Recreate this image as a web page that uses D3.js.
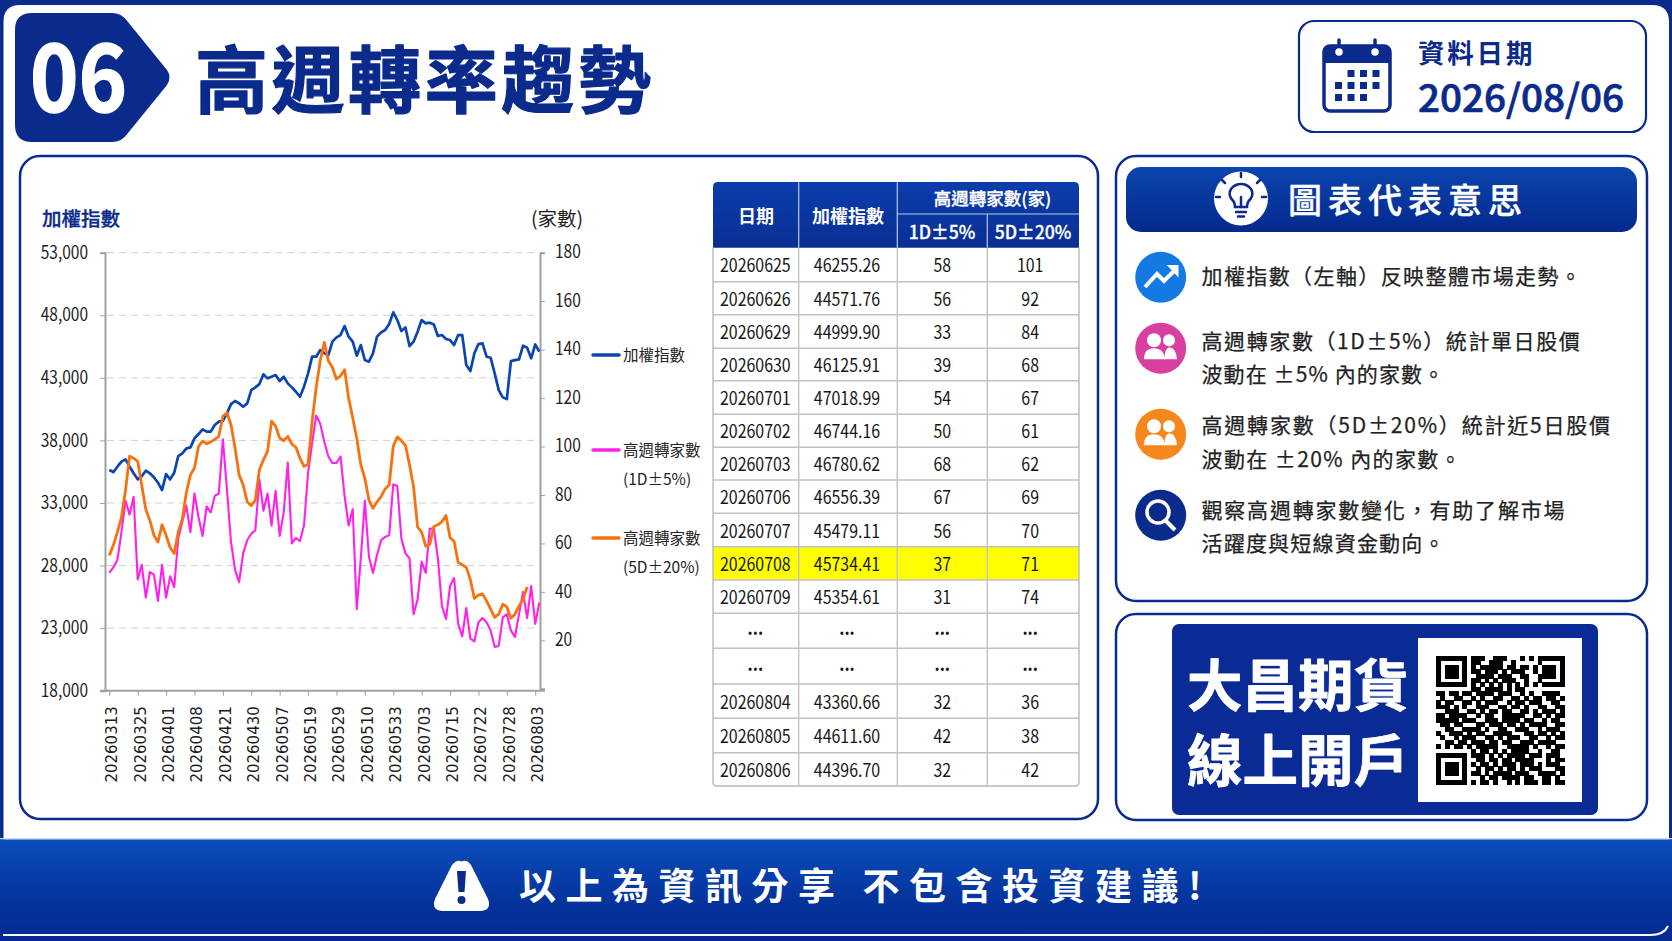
<!DOCTYPE html>
<html lang="zh-Hant"><head><meta charset="utf-8">
<script src="https://cdn.jsdelivr.net/npm/d3@7/dist/d3.min.js"></script>
<style>html,body{margin:0;padding:0;background:#fff;overflow:hidden}svg{display:block}text{font-family:"Noto Sans CJK TC","Noto Sans",sans-serif}</style>
</head><body><svg id="c" width="1672" height="941"></svg>
<script>
const indexSeries=[35630,35470,35900,36300,36480,35900,35370,34890,35150,35580,35370,35050,34620,34030,35310,34890,35420,36750,36960,37360,37440,38160,38510,38880,38700,38700,39230,39500,39570,40160,40900,41150,40960,40690,40960,42020,42240,42500,43280,42960,43090,43220,42740,43090,42560,42240,41890,41490,42290,43360,44690,44690,45220,44960,44820,45890,46230,46420,47140,46290,45890,44770,45620,44420,44290,44960,46290,46630,46820,47300,48230,47620,46740,47030,45540,45890,46690,47620,47350,47410,47270,46340,46420,46100,46020,45620,46420,46420,44020,43540,44960,45700,45750,44690,44610,43360,42020,41440,41300,44340,44420,44480,45570,45410,44560,45670,45090];
const series1D=[47.8,50.1,53.2,64.7,77.6,71.9,79.2,45.1,51.2,37.6,48.2,47.1,36.3,51.2,37.6,46.4,42,62,68.8,75.6,64.7,80.6,70.8,63.1,75.3,72.8,79.6,80.6,103,82.3,60.7,49.1,44,55.9,61.3,64,65.4,86.4,73.5,80.6,67.4,81.7,63.1,72.8,93.4,60,62.3,61,67.4,89.1,101.3,112.8,109.4,102,95.9,93.2,93.2,95.9,79.6,67.4,74.2,32.9,53.9,77.6,54.6,47.8,55.2,61.3,62.7,63.4,84.4,83.7,62,55.9,53.9,30.8,36.9,52.5,47.8,66.1,66.1,53.9,34.2,28.8,42.4,45.7,26.8,21.6,33.3,20.7,19.6,27.5,29.2,27.5,24.1,17.3,17.7,29.5,30.8,24.1,21.4,30.8,39.9,29.2,42.4,26.8,35.6];
const series5D=[55,59.3,64.7,70.8,82,96,95.2,93.9,84,74,69.5,63.4,60.6,67.7,63.4,58.2,55.9,64.7,70.1,81,88.3,91.1,100.1,102.2,101.2,101.9,102.9,104.2,112.5,113.9,109.1,99.4,88.3,84.2,77.2,75.6,77.9,90.4,94.5,98,110.5,108.4,103.5,102.4,104.2,101,99.7,95.2,91.8,92.7,110.5,124.3,135.4,143,135.4,132.6,127.8,129.2,131.7,120,111.9,103.5,92.5,86.9,77.9,74.5,77.2,79.3,82.5,84.2,100.1,104,102.4,100.5,92.5,83.5,66.7,64.7,58.9,59.6,67,67.7,69,71.5,62.4,60.9,52.1,51.2,50.1,45.1,37.3,38.7,39.2,36.3,32.9,29.5,30.8,34.9,33.8,29.1,30.8,34.2,36.9,42];
const xTickLabels=["20260313","20260325","20260401","20260408","20260421","20260430","20260507","20260519","20260529","20260510","20260533","20260703","20260715","20260722","20260728","20260803"];
const leftTicks=[18000,23000,28000,33000,38000,43000,48000,53000];
const rightTicks=[20,40,60,80,100,120,140,160,180];
const tableDates=["20260625","20260626","20260629","20260630","20260701","20260702","20260703","20260706","20260707","20260708","20260709","...","...","20260804","20260805","20260806"];
const tableIndex=["46255.26","44571.76","44999.90","46125.91","47018.99","46744.16","46780.62","46556.39","45479.11","45734.41","45354.61","...","...","43360.66","44611.60","44396.70"];
const table1D=["58","56","33","39","54","50","68","67","56","37","31","...","...","32","42","32"];
const table5D=["101","92","84","68","67","61","62","69","70","71","74","...","...","36","38","42"];
const notes=[["加權指數（左軸）反映整體市場走勢。"],["高週轉家數（1D±5%）統計單日股價","波動在 ±5% 內的家數。"],["高週轉家數（5D±20%）統計近5日股價","波動在 ±20% 內的家數。"],["觀察高週轉家數變化，有助了解市場","活躍度與短線資金動向。"]];
const qr=["11111110111001110001010111111","10000010110011100100000100001","10111010101111101101101011101","10111010110111010111001011101","10111010011110111001100111101","10000010110101011100100100001","11111110101010101010101011111","00000000110111101011000000000","11011011011110111001010011110","01001100101001100110101101101","10110011010111001011011100110","11101010011100110110100110011","00111001101011011001101011101","11011110010110011111001101011","11111011100111011110110010110","01101100011011101101011110011","00110011110100110011100101110","10011101011001111000110110101","01001011100110101110011001011","00110110111011011001110111100","10101101011111001111101001011","00000000101101010111100100110","11111110111010101111011101110","10000010011011011011110001011","10111010101101011101110101110","10111010010110101101011100011","10111010110101111011100111101","10000010001011011110110011010","11111110101101001010111011011"];

const NAVY="#0a2a8c",svg=d3.select("#c"),defs=svg.append("defs");
function grad(id,stops,dir){const g=defs.append("linearGradient").attr("id",id).attr("x1",0).attr("y1",0).attr("x2",dir?1:0).attr("y2",dir?0:1);stops.forEach(s=>g.append("stop").attr("offset",s[0]).attr("stop-color",s[1]));}
grad("gFoot",[[0,"#0b4dba"],[.55,"#05359f"],[1,"#032a8e"]]);
grad("gHead",[[0,"#0a45ae"],[1,"#04298c"]]);
grad("gTh",[[0,"#0b3dab"],[1,"#0a2f94"]]);
function text(p,x,cy,s,size,o={}){
  const n=p.append("text").attr("x",x).attr("y",cy+size*.37).attr("font-size",size).attr("fill",o.fill||"#1c1c1c").attr("text-anchor",o.anchor||"start").attr("font-weight",o.weight||400).style("letter-spacing",o.ls?o.ls+"px":null).attr("xml:space","preserve").text(s);
  if(o.squeeze)squeeze(n,o.squeeze);
  if(o.width)n.attr("textLength",o.width).attr("lengthAdjust","spacingAndGlyphs");
  if(o.stroke)n.attr("stroke",o.fill||"#1c1c1c").attr("stroke-width",o.stroke).attr("stroke-linejoin","round");
  return n;
}
function squeeze(sel,f){sel.each(function(){const w=this.getComputedTextLength();d3.select(this).attr("textLength",w*f).attr("lengthAdjust","spacingAndGlyphs");});}
function panel(x,y,w,h,r,sw=2.5){return svg.append("rect").attr("x",x).attr("y",y).attr("width",w).attr("height",h).attr("rx",r).attr("fill","#fff").attr("stroke",NAVY).attr("stroke-width",sw);}

// frame
svg.append("rect").attr("width",1672).attr("height",941).attr("fill",NAVY);
svg.append("path").attr("d","M3.5 22Q3.5 5 20 5H1652Q1669 5 1669 22V870H3.5Z").attr("fill","#fff");
// footer
svg.append("rect").attr("x",0).attr("y",838).attr("width",1672).attr("height",1.5).attr("fill","#c9d8f2");
svg.append("path").attr("d","M0 839.5H1672V925Q1672 941 1655 941H0Z").attr("fill","url(#gFoot)");
svg.append("path").attr("d","M3 935H1650Q1664 935 1668 926").attr("fill","none").attr("stroke","#fff").attr("stroke-width",2);
svg.append("path").attr("d","M461.5 861.5Q457 859 452 865L435 899Q431 910 442 911H481Q492 910 488 899L471 865Q467 859 461.5 861.5Z").attr("fill","#fff");
svg.append("path").attr("d","M457 871H466L464.5 892H458.5Z").attr("fill",NAVY);
svg.append("circle").attr("cx",461.5).attr("cy",900).attr("r",4).attr("fill",NAVY);
text(svg,519,886,"以上為資訊分享 不包含投資建議!",37,{fill:"#fff",weight:700,ls:9.5});

// header badge and title
svg.append("path").attr("d","M15 30Q15 13 32 13H112Q122 13 128 22L167 70Q172 77 167 85L128 133Q122 142 112 142H32Q15 142 15 125Z").attr("fill",NAVY);
text(svg,30,78,"06",92,{fill:"#fff",weight:700,width:97,stroke:1.5});
text(svg,195,80,"高週轉率趨勢",73,{fill:NAVY,weight:700,ls:3.6,stroke:1.2});

// date box
panel(1299,21,347,111,15,2.2);
const cal=svg.append("g");
cal.append("rect").attr("x",1324).attr("y",46).attr("width",66).attr("height",65).attr("rx",6).attr("fill","#fff").attr("stroke",NAVY).attr("stroke-width",3.5);
cal.append("path").attr("d","M1323 63V52Q1323 46 1329 46H1385Q1391 46 1391 52V63Z").attr("fill",NAVY);
[1339,1375].forEach(x=>{cal.append("path").attr("d",`M${x} 40V51`).attr("stroke",NAVY).attr("stroke-width",3.5).attr("stroke-linecap","round");cal.append("circle").attr("cx",x).attr("cy",52).attr("r",4.5).attr("fill","#fff").attr("stroke",NAVY).attr("stroke-width",1.5);});
[[0,1],[0,2],[0,3],[1,0],[1,1],[1,2],[1,3],[2,0],[2,1],[2,2]].forEach(([r,c])=>cal.append("rect").attr("x",1335+c*12.5).attr("y",70+r*12).attr("width",7).attr("height",7).attr("fill",NAVY));
text(svg,1418,53.5,"資料日期",26.5,{fill:NAVY,weight:700,ls:2.8});
text(svg,1418,98,"2026/08/06",38,{fill:NAVY,weight:500,width:206,stroke:.7});

// chart panel
panel(20,156,1078,663,20);
const xIndex=d3.scaleLinear().domain([0,indexSeries.length-1]).range([109.3,539.3]);
const yLeft=d3.scaleLinear().domain([18000,53000]).range([690.7,252.7]);
const yRight=d3.scaleLinear().domain([0,180]).range([688.8,252.7]);
const chart=svg.append("g");
chart.append("g").selectAll("line").data(leftTicks.slice(1)).join("line").attr("x1",107).attr("x2",538).attr("y1",d=>yLeft(d)).attr("y2",d=>yLeft(d)).attr("stroke","#cfcfcf").attr("stroke-dasharray","7 5");
const ax=chart.append("g").attr("transform","translate(105,0)").call(d3.axisLeft(yLeft).tickValues(leftTicks).tickFormat(d3.format(",")).tickSize(5).tickPadding(12));
const ar=chart.append("g").attr("transform","translate(540,0)").call(d3.axisRight(yRight).tickValues(rightTicks).tickSize(5).tickPadding(10));
const tickX=d3.scalePoint().domain(xTickLabels).range([xIndex(0),xIndex(105)]);
const ab=chart.append("g").attr("transform","translate(0,690.7)").call(d3.axisBottom(tickX).tickSize(5).tickPadding(10).tickSizeOuter(0));
chart.append("line").attr("x1",100).attr("x2",545).attr("y1",690.7).attr("y2",690.7).attr("stroke","#a0a0a0").attr("stroke-width",2);
[ax,ar,ab].forEach(a=>{a.select(".domain").attr("stroke","#a0a0a0").attr("stroke-width",2);a.selectAll(".tick line").attr("stroke","#a0a0a0");a.selectAll("text").attr("fill","#1c1c1c");});
ab.select(".domain").remove();
ax.selectAll("text").attr("font-size",18).attr("dy","0.31em").call(squeeze,.86);
ar.selectAll("text").attr("font-size",18).attr("dy","0.29em").call(squeeze,.86);
ab.selectAll("text").style("font-family",'"DejaVu Sans"').attr("font-size",15).attr("transform","rotate(-90)").attr("text-anchor","end").attr("dx","-15.5").attr("dy",0).attr("x",0).attr("y",7.5);
const lineL=d3.line().x((d,i)=>xIndex(i)).y(d=>yLeft(d));
const lineR=d3.line().x((d,i)=>xIndex(i)).y(d=>yRight(d));
[[series1D,lineR,"#ff20ea",2.1],[indexSeries,lineL,"#0b45b0",2.7],[series5D,lineR,"#f7720e",2.8]].forEach(([d,l,c,w])=>chart.append("path").attr("d",l(d)).attr("fill","none").attr("stroke",c).attr("stroke-width",w).attr("stroke-linejoin","round"));
text(svg,42,219,"加權指數",19.5,{fill:NAVY,weight:500,stroke:.3});
text(svg,531,219,"(家數)",19.5,{fill:"#222"});
[[355,"#0b45b0",["加權指數"]],[450,"#ff20ea",["高週轉家數","(1D±5%)"]],[538,"#f7720e",["高週轉家數","(5D±20%)"]]].forEach(([y,c,ls])=>{
  svg.append("line").attr("x1",593).attr("x2",619).attr("y1",y).attr("y2",y).attr("stroke",c).attr("stroke-width",3.5).attr("stroke-linecap","round");
  ls.forEach((s,i)=>text(svg,623,y+i*29.5,s,15.5,{fill:"#222"}));
});

// table
const colX=[713,798.7,897.3,987.3,1079];
const rowY=[247.7,281.7,314.7,348.3,380.7,414.3,447.3,480,513.3,546.7,580,613.3,648.3,684,718.3,752.7,786];
const tb=svg.append("g");
tb.append("path").attr("d","M713 187Q713 182 718 182H1074Q1079 182 1079 187V247.7H713Z").attr("fill","url(#gTh)");
const headLines=[[[798.7,182],[798.7,247.7]],[[897.3,182],[897.3,247.7]],[[897.3,214],[1079,214]],[[987.3,214],[987.3,247.7]]];
headLines.forEach(l=>tb.append("path").attr("d",d3.line()(l)).attr("stroke","#b9c8e8").attr("stroke-width",1.2));
text(tb,756,216,"日期",18,{fill:"#fff",weight:700,anchor:"middle"});
text(tb,848,216,"加權指數",18,{fill:"#fff",weight:700,anchor:"middle"});
text(tb,992.5,199,"高週轉家數(家)",17.5,{fill:"#fff",weight:500,anchor:"middle",stroke:.3});
text(tb,942,232,"1D±5%",18,{fill:"#fff",weight:500,anchor:"middle",squeeze:.98,stroke:.3});
text(tb,1033,232,"5D±20%",18,{fill:"#fff",weight:500,anchor:"middle",squeeze:.98,stroke:.3});
tb.append("rect").attr("x",713).attr("y",546.7).attr("width",366).attr("height",33.3).attr("fill","#ffff00");
rowY.slice(1,-1).forEach(y=>tb.append("line").attr("x1",713).attr("x2",1079).attr("y1",y).attr("y2",y).attr("stroke","#c2c2c2").attr("stroke-width",1.4));
tb.append("path").attr("d","M713 247.7V782Q713 786 717 786H1075Q1079 786 1079 782V247.7").attr("fill","none").attr("stroke","#b8b8b8").attr("stroke-width",1.4);
colX.slice(1,-1).forEach(x=>tb.append("line").attr("x1",x).attr("x2",x).attr("y1",247.7).attr("y2",786).attr("stroke","#c2c2c2").attr("stroke-width",1.4));
[tableDates,tableIndex,table1D,table5D].forEach((col,c)=>{
  col.forEach((s,r)=>{const cx=(colX[c]+colX[c+1])/2-(c==0?0.5:c==1?1:c==3?3:0),cy=(rowY[r]+rowY[r+1])/2+(s==="..."?-2:1);
    text(tb,cx,cy,s,18,{anchor:"middle",squeeze:.885,fill:"#151515",weight:s==="..."?700:400});});
});

// explanation panel
panel(1116,156,531,445,20);
svg.append("rect").attr("x",1126).attr("y",167).attr("width",511).attr("height",65).attr("rx",15).attr("fill","url(#gHead)");
svg.append("circle").attr("cx",1241).attr("cy",198.5).attr("r",27).attr("fill","#fff");
const bulb=svg.append("g").attr("fill","none").attr("stroke",NAVY).attr("stroke-width",2.5).attr("stroke-linecap","round");
bulb.append("path").attr("d","M1235 207Q1235 202 1231.5 199Q1228 194 1231 189Q1235 184 1241 184Q1247 184 1251 189Q1254 194 1250.5 199Q1247 202 1247 207Z");
bulb.append("path").attr("d","M1236 212H1246M1238 216.5H1244M1241 207V197M1241 177V173M1225 183L1222 180M1257 183L1260 180M1220 197H1216M1262 197H1266");
text(svg,1288,200,"圖表代表意思",34,{fill:"#fff",weight:500,ls:6,stroke:.4});
const iconC=[[277.3,"#1479e2"],[348.3,"#d93f9e"],[434.3,"#f5871d"],[515.3,"#0a2a8c"]];
iconC.forEach(([y,c])=>svg.append("circle").attr("cx",1160.7).attr("cy",y).attr("r",25.5).attr("fill",c));
svg.append("path").attr("d","M1145 287L1157 274L1164 281L1177 268").attr("fill","none").attr("stroke","#fff").attr("stroke-width",4);
svg.append("path").attr("d","M1169 266H1177.5V275Z").attr("fill","#fff").attr("stroke","#fff").attr("stroke-width",2);
[348.3,434.3].forEach(y=>{const g=svg.append("g").attr("fill","#fff");
  g.append("circle").attr("cx",1169).attr("cy",y-8).attr("r",6);g.append("path").attr("d",`M1164 ${y+11}Q1165 ${y} 1169 ${y-1}Q1176 ${y-1} 1177 ${y+11}Z`);
  g.append("circle").attr("cx",1154).attr("cy",y-8).attr("r",7);g.append("path").attr("d",`M1144 ${y+11}Q1144 ${y} 1154 ${y}Q1164 ${y} 1165 ${y+11}Z`);});
svg.append("circle").attr("cx",1158).attr("cy",512).attr("r",11).attr("fill","none").attr("stroke","#fff").attr("stroke-width",3.5);
svg.append("line").attr("x1",1166).attr("x2",1175).attr("y1",521).attr("y2",530).attr("stroke","#fff").attr("stroke-width",4);
const noteY=[[276.7],[341,374],[425.7,459],[510.7,543.5]];
const noteLs=[[1.4],[1.6,1.1],[1.8,1.4],[1.8,1.2]];
notes.forEach((ls,i)=>ls.forEach((s,j)=>text(svg,1201.5,noteY[i][j],s,21,{fill:"#222",ls:noteLs[i][j],stroke:.25})));

// QR panel
panel(1116,614,531,206,20);
svg.append("rect").attr("x",1172).attr("y",624).attr("width",426).attr("height",191).attr("rx",7).attr("fill","#0a2a96");
text(svg,1187,685,"大昌期貨",55.5,{fill:"#fff",weight:700,stroke:.8});
text(svg,1187,760,"線上開戶",55.5,{fill:"#fff",weight:700,stroke:.8});
svg.append("rect").attr("x",1418).attr("y",638).attr("width",164).attr("height",164).attr("fill","#fff");
const qs=d3.scaleBand().domain(d3.range(29)).range([1436,1564]),qy=d3.scaleBand().domain(d3.range(29)).range([656,784]);
svg.append("g").attr("shape-rendering","crispEdges").selectAll("g").data(qr).join("g").each(function(row,r){
  d3.select(this).selectAll("rect").data(row.split("").map((b,c)=>[b,c]).filter(d=>d[0]==="1")).join("rect").attr("x",d=>qs(d[1])).attr("y",qy(r)).attr("width",qs.bandwidth()+.5).attr("height",qy.bandwidth()+.5).attr("fill","#000");
});
</script></body></html>
